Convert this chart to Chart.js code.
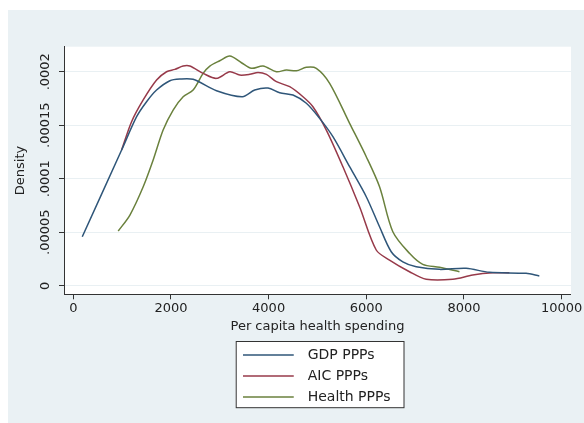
<!DOCTYPE html>
<html>
<head>
<meta charset="utf-8">
<script src="https://cdn.jsdelivr.net/npm/chart.js@4/dist/chart.umd.min.js"></script>
<style>
  body { margin: 0; background: #ffffff; }
  #wrap { position: absolute; left: 8px; top: 10px; }
  #chart { background: #eaf1f4; display: block; }
</style>
</head>
<body>
<div id="wrap"><canvas id="chart" width="576" height="413"></canvas></div>
<script>
// values (density)
var gdpX = [184, 990, 1297, 1501, 1706, 1978, 2182, 2454, 2933, 3464, 3716, 3988, 4227, 4499, 4773, 5045, 5317, 5659, 6000, 6272, 6511, 6749, 7023, 7499, 8045, 8521, 9272, 9544];
var gdpY = [4.58e-5, 12.68e-5, 15.8e-5, 17.2e-5, 18.29e-5, 19.16e-5, 19.32e-5, 19.29e-5, 18.22e-5, 17.66e-5, 18.29e-5, 18.48e-5, 18.04e-5, 17.82e-5, 17.05e-5, 15.64e-5, 13.93e-5, 11.13e-5, 8.32e-5, 5.51e-5, 3.18e-5, 2.24e-5, 1.78e-5, 1.53e-5, 1.63e-5, 1.25e-5, 1.16e-5, 0.91e-5];

var aicX = [990, 1194, 1432, 1706, 1910, 2080, 2250, 2386, 2659, 2933, 3205, 3410, 3614, 3783, 3955, 4160, 4432, 4704, 4908, 5182, 5522, 5863, 6204, 6476, 6885, 7227, 7771, 8180, 8589, 8930];
var aicY = [12.68e-5, 15.33e-5, 17.36e-5, 19.22e-5, 20.0e-5, 20.22e-5, 20.53e-5, 20.53e-5, 19.85e-5, 19.38e-5, 20.0e-5, 19.69e-5, 19.76e-5, 19.94e-5, 19.76e-5, 19.07e-5, 18.6e-5, 17.66e-5, 16.73e-5, 14.55e-5, 11.12e-5, 7.38e-5, 3.34e-5, 2.4e-5, 1.31e-5, 0.6e-5, 0.6e-5, 1.0e-5, 1.21e-5, 1.21e-5];

var healthX = [920, 1160, 1432, 1636, 1840, 2045, 2250, 2454, 2659, 2796, 3000, 3205, 3444, 3648, 3886, 4160, 4364, 4569, 4773, 4977, 5250, 5659, 6000, 6272, 6544, 6885, 7157, 7499, 7908];
var healthY = [5.11e-5, 6.61e-5, 9.25e-5, 11.75e-5, 14.55e-5, 16.42e-5, 17.66e-5, 18.29e-5, 19.85e-5, 20.53e-5, 21.03e-5, 21.47e-5, 20.84e-5, 20.32e-5, 20.53e-5, 20.0e-5, 20.16e-5, 20.09e-5, 20.41e-5, 20.32e-5, 18.92e-5, 15.18e-5, 12.06e-5, 9.25e-5, 5.05e-5, 3.03e-5, 2.0e-5, 1.72e-5, 1.31e-5];

var seriesNames = ['GDP PPPs', 'AIC PPPs', 'Health PPPs'];
var xTicks = [0, 2000, 4000, 6000, 8000, 10000];
var yTicks = [0, 0.00005, 0.0001, 0.00015, 0.0002];
var yTickLabels = ['0', '.00005', '.0001', '.00015', '.0002'];

var colors = ['#2f5679', '#973a4a', '#6a813d'];
var font = 'DejaVu Sans';
var legendBox = { left: 227.7, top: 331, width: 168.3, height: 66.7 };

function pairs(xs, ys) {
  var out = [];
  for (var i = 0; i < xs.length; i++) out.push({x: xs[i], y: ys[i]});
  return out;
}

// legend key: a short line with some room after it
function keyLine(color) {
  var c = document.createElement('canvas');
  c.width = 58; c.height = 4;
  var g = c.getContext('2d');
  g.strokeStyle = color; g.lineWidth = 1.5;
  g.beginPath(); g.moveTo(0, 2); g.lineTo(51, 2); g.stroke();
  return c;
}

function makeSet(i, xs, ys) {
  return {
    label: seriesNames[i],
    data: pairs(xs, ys),
    borderColor: colors[i],
    backgroundColor: colors[i],
    borderWidth: 1.5,
    pointRadius: 0,
    pointStyle: keyLine(colors[i]),
    tension: 0.3,
    fill: false
  };
}

var frame = {
  id: 'frame',
  afterLayout: function(chart) {
    var lg = chart.legend;
    lg.left = legendBox.left;
    lg.top = legendBox.top;
    lg.right = legendBox.left + legendBox.width;
    lg.bottom = chart.height;   // keep all three rows in one column
  },
  beforeDraw: function(chart) {
    var ctx = chart.ctx, a = chart.chartArea;
    ctx.save();
    ctx.fillStyle = '#ffffff';
    ctx.fillRect(a.left, a.top, a.right - a.left, a.bottom - a.top);
    ctx.fillRect(legendBox.left, legendBox.top, legendBox.width, legendBox.height);
    ctx.strokeStyle = '#333333';
    ctx.lineWidth = 1;
    ctx.strokeRect(legendBox.left + 0.5, legendBox.top + 0.5, legendBox.width - 0.5, legendBox.height - 0.5);
    ctx.restore();
  }
};

var ctx = document.getElementById('chart').getContext('2d');
var chart = new Chart(ctx, {
  type: 'scatter',
  data: {
    datasets: [makeSet(0, gdpX, gdpY), makeSet(1, aicX, aicY), makeSet(2, healthX, healthY)]
  },
  options: {
    responsive: false,
    animation: false,
    showLine: true,
    layout: { padding: { top: 36.7, right: 12.3, left: 0, bottom: 0 } },
    plugins: {
      tooltip: { enabled: false },
      legend: {
        position: 'chartArea',
        align: 'start',
        labels: {
          usePointStyle: true,
          pointStyleWidth: 58,
          padding: 7,
          color: '#222',
          font: { family: font, size: 14 }
        }
      }
    },
    scales: {
      x: {
        type: 'linear',
        min: -190,
        max: 10192,
        afterBuildTicks: function(s) { s.ticks = xTicks.map(function(v) { return {value: v}; }); },
        afterFit: function(s) { s.height = 128.7; },
        ticks: {
          autoSkip: false,
          maxRotation: 0,
          padding: 1.5,
          color: '#222',
          font: { family: font, size: 13 },
          callback: function(v) { return String(v); }
        },
        grid: { drawOnChartArea: false, tickLength: 5, tickColor: '#333' },
        border: { display: true, color: '#333', width: 1 },
        title: {
          display: true,
          text: 'Per capita health spending',
          color: '#222',
          font: { family: font, size: 13 },
          padding: { top: 0, bottom: 88.2 }
        }
      },
      y: {
        min: -0.000008,
        max: 0.0002234,
        afterBuildTicks: function(s) { s.ticks = yTicks.map(function(v) { return {value: v}; }); },
        afterFit: function(s) { s.width = 56; },
        ticks: {
          autoSkip: false,
          minRotation: 90,
          maxRotation: 90,
          crossAlign: 'center',
          padding: -9.5,
          color: '#222',
          font: { family: font, size: 13 },
          callback: function(v, i) { return yTickLabels[i]; }
        },
        grid: { color: '#e9f0f3', lineWidth: 1, tickLength: 5, tickColor: '#333' },
        border: { display: true, color: '#333', width: 1 },
        title: {
          display: true,
          text: 'Density',
          color: '#222',
          font: { family: font, size: 13 },
          padding: { top: 5.2, bottom: 0 }
        }
      }
    }
  },
  plugins: [frame]
});
</script>
</body>
</html>
